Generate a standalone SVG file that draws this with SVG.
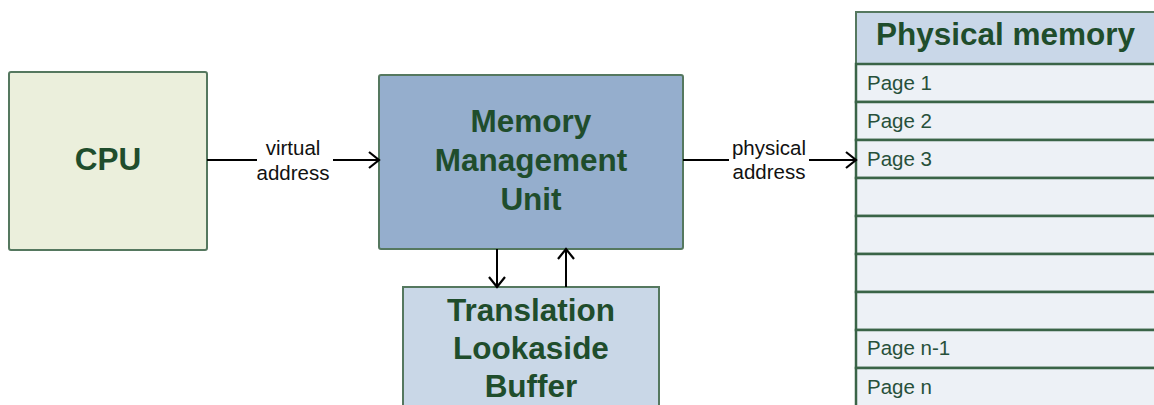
<svg xmlns="http://www.w3.org/2000/svg" width="1154" height="405" viewBox="0 0 1154 405">
<style>
.box{stroke:#55785f;stroke-width:2}
.title{font-family:"Liberation Sans",Arial,sans-serif;font-weight:bold;font-size:31.5px;fill:#1f4d2c;text-anchor:middle}
.lbl{font-family:"Liberation Sans",Arial,sans-serif;font-size:20.5px;fill:#111;text-anchor:middle}
.page{font-family:"Liberation Sans",Arial,sans-serif;font-size:20.5px;fill:#27503a}
.row{fill:#edf1f6;stroke:#3a6447;stroke-width:2.5}
.conn{stroke:#000;stroke-width:2;fill:none}
</style>
<defs>
<marker id="arr" markerUnits="userSpaceOnUse" markerWidth="16" markerHeight="22" refX="11" refY="9" orient="auto">
<path d="M1,1 L11,9 L1,17" fill="none" stroke="#000" stroke-width="2.2"/>
</marker>
</defs>
<rect width="1154" height="405" fill="#fff"/>
<g id="cpu">
<rect class="box" x="9" y="72" width="198" height="178" rx="2" fill="#ebefdc"/>
<text class="title" x="108" y="170">CPU</text>
</g>
<g id="mmu">
<rect class="box" x="379" y="75" width="304" height="174" rx="2" fill="#95aecd"/>
<text class="title" x="531" y="132">Memory</text>
<text class="title" x="531" y="171">Management</text>
<text class="title" x="531" y="210">Unit</text>
</g>
<g id="tlb">
<rect class="box" x="403" y="287" width="256" height="130" fill="#c9d7e7"/>
<text class="title" x="531" y="321">Translation</text>
<text class="title" x="531" y="359">Lookaside</text>
<text class="title" x="531" y="397">Buffer</text>
</g>
<g id="physical-memory">
<rect class="box" x="856" y="12" width="310" height="52" fill="#c9d7e8"/>
<text class="title" x="876" y="45" style="text-anchor:start">Physical memory</text>
<rect class="row" x="856" y="64" width="310" height="38"/>
<rect class="row" x="856" y="102" width="310" height="38"/>
<rect class="row" x="856" y="140" width="310" height="38"/>
<rect class="row" x="856" y="178" width="310" height="38"/>
<rect class="row" x="856" y="216" width="310" height="38"/>
<rect class="row" x="856" y="254" width="310" height="38"/>
<rect class="row" x="856" y="292" width="310" height="38"/>
<rect class="row" x="856" y="330" width="310" height="38"/>
<rect class="row" x="856" y="368" width="310" height="40"/>
<text class="page" x="867" y="90">Page 1</text>
<text class="page" x="867" y="128">Page 2</text>
<text class="page" x="867" y="166">Page 3</text>
<text class="page" x="867" y="355">Page n-1</text>
<text class="page" x="867" y="394">Page n</text>
</g>
<g id="connectors">
<line class="conn" x1="207" y1="160" x2="379" y2="160" marker-end="url(#arr)"/>
<rect x="257" y="136" width="76" height="48" fill="#fff"/>
<text class="lbl" x="293" y="155">virtual</text>
<text class="lbl" x="293" y="180">address</text>
<line class="conn" x1="683" y1="160" x2="856" y2="160" marker-end="url(#arr)"/>
<rect x="729" y="136" width="80" height="48" fill="#fff"/>
<text class="lbl" x="769" y="155">physical</text>
<text class="lbl" x="769" y="179">address</text>
<line class="conn" x1="497" y1="249" x2="497" y2="287" marker-end="url(#arr)"/>
<line class="conn" x1="566" y1="287" x2="566" y2="249" marker-end="url(#arr)"/>
</g>
</svg>
